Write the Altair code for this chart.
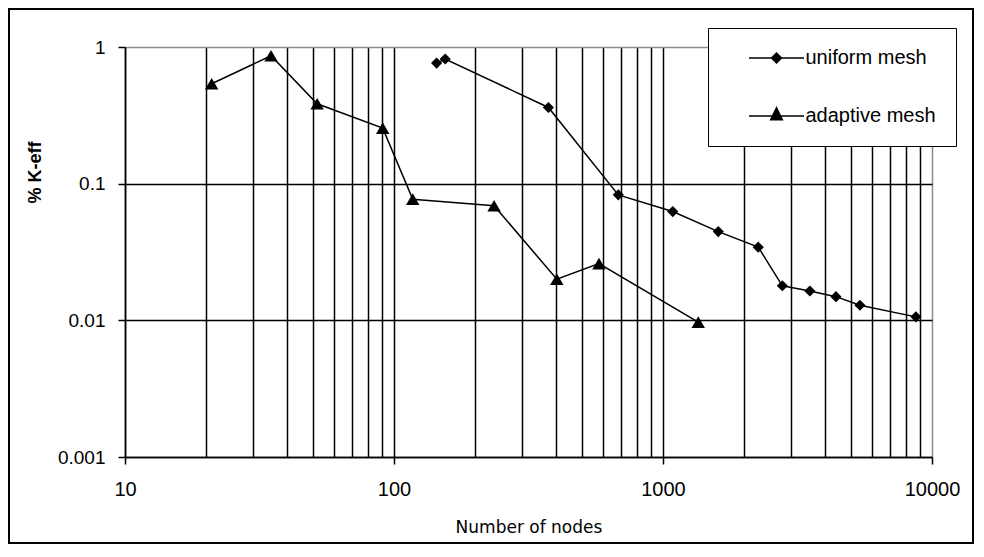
import altair as alt
import pandas as pd

# ---- data ----
series_names = ["uniform mesh", "adaptive mesh"]

uniform_nodes = [144, 155, 375, 682, 1087, 1605, 2260, 2777, 3515, 4395, 5395, 8710]
uniform_keff = [0.763, 0.817, 0.361, 0.0828, 0.0625, 0.0446, 0.0343, 0.0179, 0.0164, 0.0149, 0.0129, 0.0106]

adaptive_nodes = [21.0, 34.9, 51.8, 90.8, 117.4, 235.5, 403, 578, 1352]
adaptive_keff = [0.538, 0.863, 0.384, 0.255, 0.077, 0.069, 0.020, 0.026, 0.0097]

x_grid_values = [10, 20, 30, 40, 50, 60, 70, 80, 90,
                 100, 200, 300, 400, 500, 600, 700, 800, 900,
                 1000, 2000, 3000, 4000, 5000, 6000, 7000, 8000, 9000, 10000]
x_label_values = [10, 100, 1000, 10000]
y_tick_values = [0.001, 0.01, 0.1, 1]

df = pd.DataFrame({
    "nodes": uniform_nodes + adaptive_nodes,
    "keff": uniform_keff + adaptive_keff,
    "series": [series_names[0]] * len(uniform_nodes) + [series_names[1]] * len(adaptive_nodes),
})

label_list = "[" + ",".join(str(v) for v in x_label_values) + "]"

x_enc = alt.X(
    "nodes:Q",
    scale=alt.Scale(type="log", domain=[10, 10000]),
    axis=alt.Axis(
        values=x_grid_values,
        format="d",
        labelExpr=f"indexof({label_list}, datum.value) >= 0 ? datum.label : ''",
        labelOverlap=False,
        labelFlush=False,
        labelFont="Liberation Sans",
        labelFontSize=20,
        labelColor="black",
        labelPadding=15,
        tickSize=7,
        tickWidth=1.5,
        tickColor={"condition": {"test": f"indexof({label_list}, datum.value) < 0", "value": "transparent"},
                   "value": "black"},
        grid=True,
        gridColor={"condition": {"test": "datum.value === 10000", "value": "#8c8c8c"}, "value": "black"},
        gridWidth=1.5,
        domainColor="black",
        domainWidth=1.5,
        title="Number of nodes",
        titleFont="DejaVu Sans",
        titleFontSize=17,
        titleFontWeight="normal",
        titleColor="black",
        titleX=403.5,
        titleY=75,
        titleAlign="center",
        titleBaseline="alphabetic",
    ),
)

y_enc = alt.Y(
    "keff:Q",
    scale=alt.Scale(type="log", domain=[0.001, 1]),
    axis=alt.Axis(
        values=y_tick_values,
        format=".3~f",
        labelOverlap=False,
        labelFont="Liberation Sans",
        labelFontSize=19,
        labelColor="black",
        labelPadding=13,
        tickSize=7,
        tickWidth=1.5,
        tickColor="black",
        grid=True,
        gridColor={"condition": {"test": "datum.value === 1", "value": "#8c8c8c"}, "value": "black"},
        gridWidth=1.5,
        domainColor="black",
        domainWidth=1.5,
        title="% K-eff",
        titleFont="Liberation Sans",
        titleFontSize=18,
        titleFontWeight="bold",
        titleColor="black",
        titleAngle=270,
        titleX=-90,
        titleY=125,
        titleAlign="center",
        titleBaseline="middle",
    ),
)

# legend symbols: a thin bar (the line) with the marker in its middle, all filled
uni_path = ("M-5.5,-0.15L5.5,-0.15L5.5,0.15L-5.5,0.15Z"
            "M0,-1.2L1.2,0L0,1.2L-1.2,0Z")
ada_path = ("M-5.5,-0.15L5.5,-0.15L5.5,0.15L-5.5,0.15Z"
            "M0,-2L1.4,0.9L-1.4,0.9Z")

legend = alt.Legend(
    title=None,
    orient="none",
    legendX=583,
    legendY=-19,
    fillColor="white",
    strokeColor="black",
    padding=20,
    rowPadding=35,
    symbolSize=100,
    symbolOffset=38.5,
    labelOffset=19,
    symbolFillColor="black",
    symbolOpacity=1,
    labelFont="Liberation Sans",
    labelFontSize=20,
    labelColor="black",
    labelLimit=400,
)

base = alt.Chart(df).encode(x=x_enc, y=y_enc)

lines = base.mark_line(color="black", strokeWidth=1.5).encode(detail="series:N")

points = base.mark_point(filled=True, opacity=1, color="black").encode(
    shape=alt.Shape("series:N", scale=alt.Scale(domain=series_names, range=["diamond", "triangle-up"]),
                    legend=None),
    size=alt.Size("series:N", scale=alt.Scale(domain=series_names, range=[125, 180]), legend=None),
)

# legend-only layer (no rows drawn), carrying the line+marker legend symbols
legend_layer = base.transform_filter("datum.nodes < 0").mark_point(
    filled=True, color="black", opacity=1
).encode(
    shape=alt.Shape("series:N", scale=alt.Scale(domain=series_names, range=[uni_path, ada_path]),
                    legend=legend),
)

frame = alt.Chart(pd.DataFrame({"f": [0]})).mark_rect(
    filled=False, stroke="black", strokeWidth=2
).encode(x=alt.value(-116), x2=alt.value(848), y=alt.value(-38), y2=alt.value(496))

chart = alt.layer(frame, lines, points, legend_layer).resolve_scale(
    shape="independent", size="independent"
).resolve_legend(shape="independent").properties(
    width=807,
    height=410,
    autosize=alt.AutoSizeParams(type="none"),
    padding={"left": 117, "top": 39, "right": 42, "bottom": 87},
    background="white",
).configure_view(stroke="transparent")

chart.save("out.html", embed_options={"renderer": "svg", "actions": False})
